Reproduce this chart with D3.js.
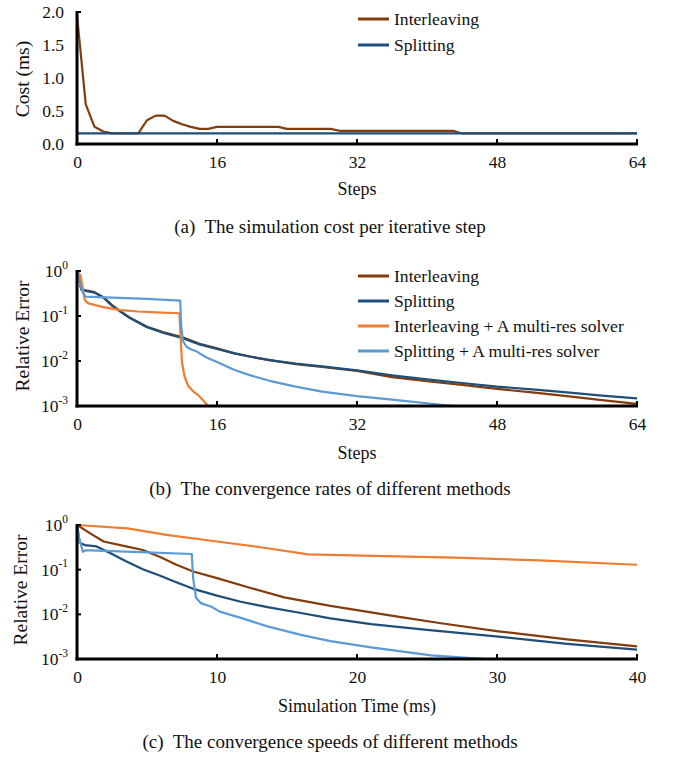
<!DOCTYPE html>
<html>
<head>
<meta charset="utf-8">
<script src="https://cdn.jsdelivr.net/npm/d3@7"></script>
<style>
  html, body { margin: 0; padding: 0; background: #fff; }
  svg { display: block; }
  text { font-family: "Liberation Serif", "Times New Roman", serif; fill: #111; }
</style>
</head>
<body>
<svg id="chart" width="676" height="757"></svg>
<script>
// ---------------- DATA ----------------
// Panel (a): simulation cost per iterative step
const costSteps = [0,1,2,3,4,5,6,7,8,9,10,11,12,13,14,15,16,17,18,19,20,21,22,23,24,25,26,27,28,29,30,31,32,33,34,35,36,37,38,39,40,41,42,43,44,45,46,47,48,49,50,51,52,53,54,55,56,57,58,59,60,61,62,63,64];
const costInterleaving = [1.95,0.6,0.26,0.19,0.16,0.16,0.16,0.16,0.36,0.43,0.43,0.35,0.30,0.26,0.23,0.23,0.26,0.26,0.26,0.26,0.26,0.26,0.26,0.26,0.23,0.23,0.23,0.23,0.23,0.23,0.2,0.2,0.2,0.2,0.2,0.2,0.2,0.2,0.2,0.2,0.2,0.2,0.2,0.2,0.16,0.16,0.16,0.16,0.16,0.16,0.16,0.16,0.16,0.16,0.16,0.16,0.16,0.16,0.16,0.16,0.16,0.16,0.16,0.16,0.16];
const costSplittingSteps = [0, 64];
const costSplitting = [0.16, 0.16];
const costTicks = [0.0, 0.5, 1.0, 1.5, 2.0];
const stepTicks = [0, 16, 32, 48, 64];

// Panel (b): relative error vs steps
const bInterSteps = [0,0.5,1,2,3,4,5,6,8,10,12,14,16,18,20,22,25,28,32,36,40,44,48,52,56,60,64];
const bInterleaving = [1,0.398,0.372,0.339,0.263,0.174,0.126,0.0933,0.0575,0.0427,0.0339,0.0240,0.0191,0.0148,0.0123,0.0105,0.00851,0.00741,0.00603,0.00437,0.00355,0.00295,0.00240,0.00200,0.00166,0.00135,0.00112];
const bSplitSteps = [0,0.5,1,2,3,4,5,6,8,10,12,14,16,18,20,22,25,28,32,36,40,44,48,52,56,60,64];
const bSplitting = [1,0.380,0.363,0.331,0.257,0.170,0.123,0.0912,0.0562,0.0417,0.0324,0.0234,0.0186,0.0148,0.0123,0.0105,0.00871,0.00759,0.00617,0.00479,0.00389,0.00324,0.00269,0.00234,0.00200,0.00170,0.00148];
const bInterMRSteps = [0,0.4,0.9,1.3,3,5,7,9,11.7,11.85,12,12.3,12.7,13.3,13.8,14.3,15,15.4];
const bInterleavingMR = [1,0.794,0.224,0.191,0.158,0.135,0.126,0.120,0.115,0.0316,0.00912,0.00447,0.00282,0.00209,0.00178,0.00141,0.001,0.000631];
const bSplitMRSteps = [0,0.3,0.7,1,4,8,11.8,11.9,12.1,12.5,13,13.7,14.8,16,18,20,22,25,28,32,36,40,43,45];
const bSplittingMR = [1,0.562,0.316,0.269,0.257,0.240,0.219,0.0631,0.0282,0.0209,0.0182,0.0162,0.0120,0.00955,0.00631,0.00468,0.00363,0.00269,0.00209,0.00166,0.00138,0.00115,0.001,0.000891];

// Panel (c): relative error vs simulation time (ms)
const cInterTime = [0,1,1.9,3.5,4.7,5.9,7.1,8.3,10,12.4,14.8,18.1,22.9,26,30.1,35,40];
const cInterleaving = [1,0.631,0.427,0.331,0.275,0.195,0.129,0.0912,0.0646,0.0389,0.0240,0.0155,0.00891,0.00631,0.00417,0.00275,0.00191];
const cSplitTime = [0,0.2,0.55,1.4,2.4,3.5,4.7,5.9,7,8.3,10,11.7,13.6,16,18.1,21,25,30.1,35,40];
const cSplitting = [1,0.398,0.355,0.331,0.234,0.155,0.102,0.0741,0.0537,0.0372,0.0263,0.0191,0.0145,0.0107,0.00813,0.00603,0.00447,0.00316,0.00219,0.00162];
const cInterMRTime = [0,3.6,6.4,10,13.6,16.5,22,27,33,40];
const cInterleavingMR = [1,0.841,0.603,0.427,0.302,0.219,0.200,0.186,0.162,0.129];
const cSplitMRTime = [0,0.15,0.43,0.6,1,4,8.2,8.3,8.5,8.85,9.6,10.2,11.7,13.6,16,18.1,21,25.3,30,32];
const cSplittingMR = [1,0.501,0.251,0.269,0.269,0.251,0.224,0.0631,0.0234,0.0178,0.0148,0.0115,0.00832,0.00537,0.00347,0.00251,0.00182,0.00120,0.000955,0.000871];
const timeTicks = [0, 10, 20, 30, 40];
const errTicks = [1e-3, 1e-2, 1e-1, 1];

const legendA = ["Interleaving", "Splitting"];
const legendB = ["Interleaving", "Splitting", "Interleaving + A multi-res solver", "Splitting + A multi-res solver"];
const captions = ["(a)  The simulation cost per iterative step", "(b)  The convergence rates of different methods", "(c)  The convergence speeds of different methods"];

// ---------------- STYLE ----------------
const COL = { inter: "#843C0C", split: "#1F4E79", interMR: "#ED7D31", splitMR: "#5B9BD5" };
const svg = d3.select("#chart");
const X0 = 77, X1 = 637;

function zip(xs, ys) { return xs.map((x, i) => [x, ys[i]]); }

function drawPanel(cfg) {
  const g = svg.append("g");
  const x = d3.scaleLinear().domain(cfg.xDomain).range([X0, X1]);
  const y = cfg.log
    ? d3.scaleLog().domain([1e-3, 1]).range([cfg.bottom, cfg.top])
    : d3.scaleLinear().domain([0, 2]).range([cfg.bottom, cfg.top]);

  const clipId = "clip" + cfg.id;
  svg.append("clipPath").attr("id", clipId).append("rect")
    .attr("x", X0).attr("y", cfg.top - 6).attr("width", X1 - X0 + 4).attr("height", cfg.bottom - cfg.top + 6);

  const line = d3.line().x(d => x(d[0])).y(d => y(d[1]));
  const lg = g.append("g").attr("clip-path", `url(#${clipId})`);
  cfg.series.forEach(s => {
    lg.append("path").datum(zip(s.x, s.y))
      .attr("d", line).attr("fill", "none")
      .attr("stroke", s.color).attr("stroke-width", 2.2).attr("stroke-linejoin", "round");
  });

  // x axis
  const xAxis = d3.axisBottom(x).tickValues(cfg.xTicks).tickSize(0).tickPadding(0).tickFormat(d3.format("d"));
  const xg = g.append("g").attr("transform", `translate(0,${cfg.bottom})`).call(xAxis);
  xg.select(".domain").remove();
  xg.selectAll("text").attr("font-size", 17.5).attr("font-family", "Liberation Serif").attr("fill", "#111").attr("dy", "1.35em");
  g.append("line").attr("x1", X0 - 1.5).attr("x2", X1 + 1).attr("y1", cfg.bottom).attr("y2", cfg.bottom)
    .attr("stroke", "#000").attr("stroke-width", 3);
  cfg.xTicks.filter(d => d !== cfg.xDomain[0]).forEach(d => {
    g.append("line").attr("x1", x(d)).attr("x2", x(d)).attr("y1", cfg.bottom).attr("y2", cfg.bottom - 5)
      .attr("stroke", "#000").attr("stroke-width", 2);
  });

  // y axis
  g.append("line").attr("x1", X0).attr("x2", X0).attr("y1", cfg.top - 1).attr("y2", cfg.bottom + 1.5)
    .attr("stroke", "#000").attr("stroke-width", 3);
  cfg.yTicks.forEach(d => {
    if (cfg.log || d === 2.0) {
      g.append("line").attr("x1", X0).attr("x2", X0 + 4).attr("y1", y(d)).attr("y2", y(d))
        .attr("stroke", "#000").attr("stroke-width", 2);
    }
    const t = g.append("text").attr("x", cfg.log ? 68 : 64).attr("y", y(d)).attr("dy", "0.35em")
      .attr("text-anchor", "end").attr("font-size", 17.5);
    if (cfg.log) {
      t.append("tspan").text("10");
      t.append("tspan").attr("font-size", 11.5).attr("dy", "-0.75em").text(String(Math.round(Math.log10(d))));
    } else {
      t.text(d3.format(".1f")(d));
    }
  });

  // titles
  g.append("text").attr("transform", `translate(${cfg.yTitleX},${cfg.yTitleY}) rotate(-90)`)
    .attr("text-anchor", "middle").attr("dy", "0.35em").attr("font-size", 19.5).text(cfg.yTitle);
  g.append("text").attr("x", 357).attr("y", cfg.xTitleY).attr("dy", "0.35em")
    .attr("text-anchor", "middle").attr("font-size", 18).text(cfg.xTitle);
  g.append("text").attr("x", 330).attr("y", cfg.captionY).attr("dy", "0.35em")
    .attr("text-anchor", "middle").attr("font-size", 19).style("white-space", "pre").text(cfg.caption);

  // legend
  if (cfg.legend) {
    cfg.legend.forEach((name, i) => {
      const ly = cfg.legendY + i * cfg.legendStep;
      g.append("line").attr("x1", 358).attr("x2", 389).attr("y1", ly).attr("y2", ly)
        .attr("stroke", cfg.series[i].color).attr("stroke-width", 3);
      g.append("text").attr("x", 394).attr("y", ly).attr("dy", "0.33em").attr("font-size", 17.6).text(name);
    });
  }
}

drawPanel({
  id: "a", xDomain: [0, 64], xTicks: stepTicks, log: false, top: 12, bottom: 144,
  yTicks: costTicks, yTitle: "Cost (ms)", yTitleX: 22, yTitleY: 79,
  xTitle: "Steps", xTitleY: 189, caption: captions[0], captionY: 226,
  series: [
    { x: costSteps, y: costInterleaving, color: COL.inter },
    { x: costSplittingSteps, y: costSplitting, color: COL.split }
  ],
  legend: legendA, legendY: 19, legendStep: 26
});

drawPanel({
  id: "b", xDomain: [0, 64], xTicks: stepTicks, log: true, top: 271, bottom: 406,
  yTicks: errTicks, yTitle: "Relative Error", yTitleX: 22, yTitleY: 336,
  xTitle: "Steps", xTitleY: 453, caption: captions[1], captionY: 488,
  series: [
    { x: bInterSteps, y: bInterleaving, color: COL.inter },
    { x: bSplitSteps, y: bSplitting, color: COL.split },
    { x: bInterMRSteps, y: bInterleavingMR, color: COL.interMR },
    { x: bSplitMRSteps, y: bSplittingMR, color: COL.splitMR }
  ],
  legend: legendB, legendY: 276, legendStep: 25
});

drawPanel({
  id: "c", xDomain: [0, 40], xTicks: timeTicks, log: true, top: 525, bottom: 659,
  yTicks: errTicks, yTitle: "Relative Error", yTitleX: 20, yTitleY: 590,
  xTitle: "Simulation Time (ms)", xTitleY: 706, caption: captions[2], captionY: 741,
  series: [
    { x: cInterTime, y: cInterleaving, color: COL.inter },
    { x: cSplitTime, y: cSplitting, color: COL.split },
    { x: cInterMRTime, y: cInterleavingMR, color: COL.interMR },
    { x: cSplitMRTime, y: cSplittingMR, color: COL.splitMR }
  ],
  legend: null
});
</script>
</body>
</html>
